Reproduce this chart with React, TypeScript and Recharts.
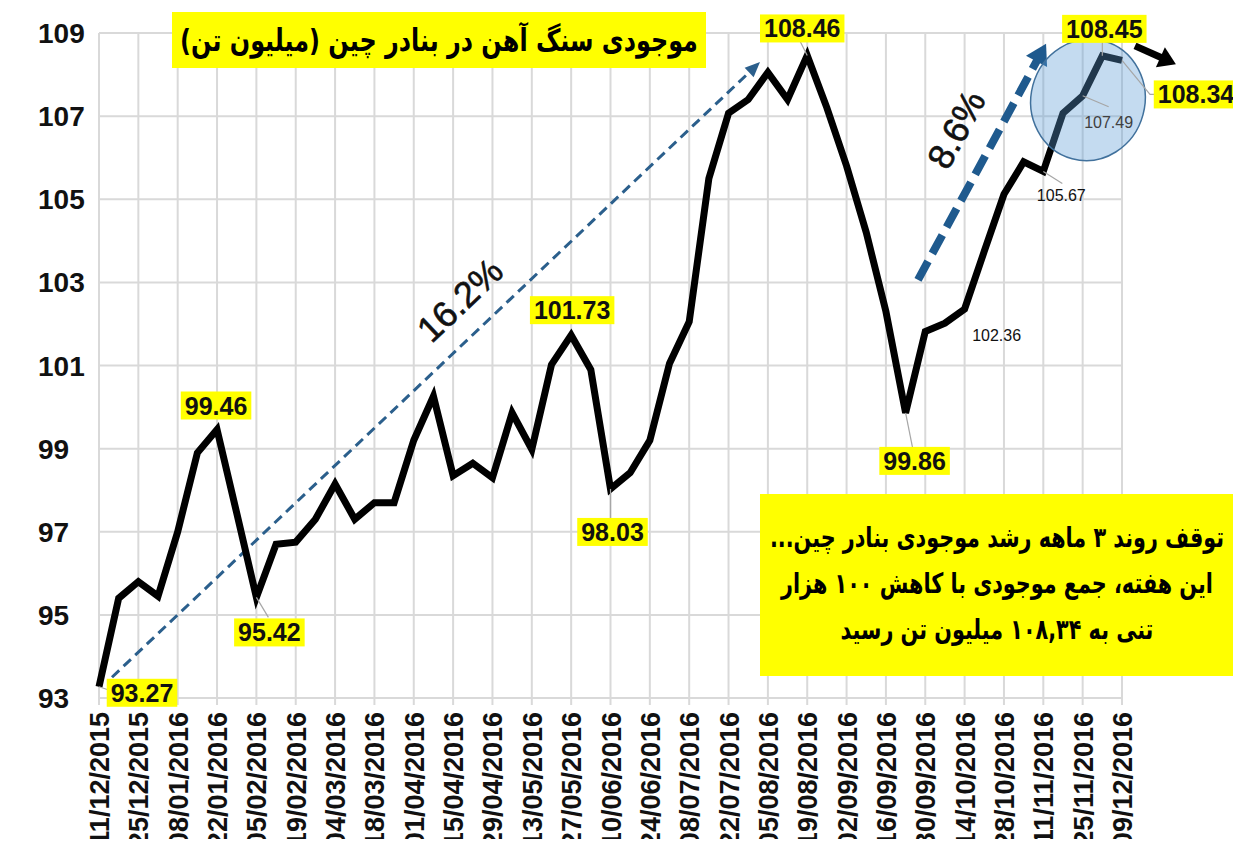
import React from "react";
import {
  CartesianGrid,
  LabelList,
  Line,
  LineChart,
  ReferenceDot,
  ReferenceLine,
  XAxis,
  YAxis,
} from "recharts";

// weekly iron ore stocks at chinese ports (million tonnes)
const weeks = [
  "11/12/2015", "18/12/2015", "25/12/2015", "01/01/2016", "08/01/2016", "15/01/2016",
  "22/01/2016", "29/01/2016", "05/02/2016", "12/02/2016", "19/02/2016", "26/02/2016",
  "04/03/2016", "11/03/2016", "18/03/2016", "25/03/2016", "01/04/2016", "08/04/2016",
  "15/04/2016", "22/04/2016", "29/04/2016", "06/05/2016", "13/05/2016", "20/05/2016",
  "27/05/2016", "03/06/2016", "10/06/2016", "17/06/2016", "24/06/2016", "01/07/2016",
  "08/07/2016", "15/07/2016", "22/07/2016", "29/07/2016", "05/08/2016", "12/08/2016",
  "19/08/2016", "26/08/2016", "02/09/2016", "09/09/2016", "16/09/2016", "23/09/2016",
  "30/09/2016", "07/10/2016", "14/10/2016", "21/10/2016", "28/10/2016", "04/11/2016",
  "11/11/2016", "18/11/2016", "25/11/2016", "02/12/2016", "09/12/2016",
];

const stocks = [
  93.27, 95.4, 95.8, 95.45, 97.0, 98.9, 99.46, 97.45, 95.42, 96.7, 96.75, 97.3,
  98.15, 97.3, 97.7, 97.7, 99.2, 100.26, 98.35, 98.65, 98.3, 99.86, 98.98, 101.02,
  101.73, 100.9, 98.03, 98.42, 99.2, 101.05, 102.05, 105.5, 107.07, 107.4, 108.05, 107.4,
  108.46, 107.2, 105.8, 104.2, 102.3, 99.86, 101.82, 102.02, 102.36, 103.75, 105.12, 105.9,
  105.67, 107.07, 107.49, 108.45, 108.34,
];

const yTicks = [93, 95, 97, 99, 101, 103, 105, 107, 109];

const TITLE = "موجودی سنگ آهن در بنادر چین (میلیون تن)";
const NOTE = [
  "توقف روند ۳ ماهه رشد موجودی بنادر چین...",
  "این هفته، جمع موجودی با کاهش ۱۰۰ هزار",
  "تنی به ۱۰۸,۳۴ میلیون تن رسید",
];

// annotation anchors in chart units [week index, value]
const trendLong = { from: [0.66, 93.5], to: [33.6, 108.3], text: "16.2%" };
const trendShort = { from: [41.63, 103.06], to: [48.14, 108.74], text: "8.6%" };
const downArrow = { from: [52.66, 108.69], to: [54.74, 108.25] };
const focus = [50.27, 107.39];

const data = weeks.map((w, i) => ({ i, week: w, v: stocks[i] }));
const xTicks = weeks.map((_, i) => i).filter((i) => i % 2 === 0);

const NUM_FONT = "'Liberation Sans', Arial, sans-serif";
const FA_FONT = "'DejaVu Sans', sans-serif";

// callout placement per point index (offsets in px from the point)
const callouts: Record<
  number,
  { dx: number; dy: number; box: boolean; leader?: number[][]; size?: number; color?: string }
> = {
  0: { dx: 43, dy: 6, box: true, leader: [[12, 4]] },
  6: { dx: -1, dy: -24, box: true },
  8: { dx: 13, dy: 35, box: true, leader: [[12, 20]] },
  24: { dx: 1, dy: -25, box: true },
  26: { dx: 2, dy: 43, box: true, leader: [[0, 30]] },
  36: { dx: -5, dy: -27, box: true, leader: [[-7, -14]] },
  41: { dx: 9, dy: 48, box: true, leader: [[7, 35]] },
  51: { dx: 2, dy: -27, box: true, leader: [[0, -14]] },
  52: { dx: 74, dy: 34, box: true, leader: [[28, 34], [36, 34]] },
  44: { dx: 32, dy: 26, box: false, size: 16 },
  48: { dx: 18, dy: 24, box: false, size: 16, leader: [[19, 12]] },
  50: { dx: 26, dy: 26, box: false, size: 16, color: "#404040", leader: [[26, 11]] },
};

function Callout(props: any) {
  const { x, y, index, value } = props;
  const c = callouts[index];
  if (!c || x == null) return null;
  const cx = x + c.dx;
  const cy = y + c.dy;
  const text = Number(value).toFixed(2);
  const size = c.size ?? 25;
  const w = (text.length - 1) * size * 0.556 + size * 0.278 + 8;
  const h = size + 3;
  let pts = `${x},${y}`;
  (c.leader ?? []).forEach((p) => (pts += ` ${x + p[0]},${y + p[1]}`));
  return (
    <g>
      {c.leader && <polyline points={pts} fill="none" stroke="#a6a6a6" strokeWidth={1.2} />}
      {c.box && <rect x={cx - w / 2} y={cy - h / 2} width={w} height={h} fill="#ffff00" />}
      <text
        x={cx}
        y={cy + size * 0.36}
        textAnchor="middle"
        fontFamily={NUM_FONT}
        fontWeight={c.box ? "bold" : "normal"}
        fontSize={size}
        fill={c.color ?? "#111"}
      >
        {text}
      </text>
    </g>
  );
}

function arrowShape(opts: {
  color: string;
  width: number;
  dash?: string;
  headLen: number;
  headW: number;
  text?: string;
  t?: number;
  off?: number;
}) {
  return (p: any) => {
    const { x1, y1, x2, y2 } = p;
    const dx = x2 - x1;
    const dy = y2 - y1;
    const len = Math.hypot(dx, dy);
    const ux = dx / len;
    const uy = dy / len;
    const bx = x2 - ux * opts.headLen;
    const by = y2 - uy * opts.headLen;
    const nx = uy;
    const ny = -ux;
    const head = `${x2},${y2} ${bx + (nx * opts.headW) / 2},${by + (ny * opts.headW) / 2} ${bx - (nx * opts.headW) / 2},${by - (ny * opts.headW) / 2}`;
    const ang = (Math.atan2(dy, dx) * 180) / Math.PI;
    let label = null;
    if (opts.text) {
      const t = opts.t ?? 0.5;
      const off = opts.off ?? 30;
      // point on the arrow, then pushed out along the upper-left normal
      const lx = x1 + dx * t + uy * off;
      const ly = y1 + dy * t - ux * off;
      label = (
        <text
          transform={`translate(${lx},${ly}) rotate(${ang})`}
          textAnchor="middle"
          dominantBaseline="central"
          fontFamily={NUM_FONT}
          fontSize={36}
          fill="#111"
          stroke="#111"
          strokeWidth={0.6}
        >
          {opts.text}
        </text>
      );
    }
    return (
      <g>
        <line
          x1={x1}
          y1={y1}
          x2={bx + ux * 2}
          y2={by + uy * 2}
          stroke={opts.color}
          strokeWidth={opts.width}
          strokeDasharray={opts.dash}
        />
        <polygon points={head} fill={opts.color} />
        {label}
      </g>
    );
  };
}

function XTick(props: any) {
  const { x, y, payload } = props;
  return (
    <text
      transform={`translate(${x + 10},${y + 5}) rotate(-90)`}
      textAnchor="end"
      fontFamily={NUM_FONT}
      fontWeight="bold"
      fontSize={27}
      fill="#111"
    >
      {weeks[payload.value]}
    </text>
  );
}

function YTick(props: any) {
  const { y, payload } = props;
  return (
    <text x={38} y={y + 10} fontFamily={NUM_FONT} fontWeight="bold" fontSize={28} fill="#111">
      {payload.value}
    </text>
  );
}

// yellow box with persian text squeezed horizontally to fit like the original heavy font
function YellowBox(props: {
  left: number;
  top: number;
  width: number;
  height: number;
  padTop: number;
  size: number;
  lineH: number;
  squeeze: number;
  lines: string[];
}) {
  const inner = 760;
  return (
    <div
      style={{
        position: "absolute",
        left: props.left,
        top: props.top,
        width: props.width,
        height: props.height,
        background: "#ffff00",
        overflow: "hidden",
      }}
    >
      <div
        style={{
          position: "absolute",
          left: (props.width - inner) / 2,
          top: props.padTop,
          width: inner,
          direction: "rtl",
          textAlign: "center",
          fontFamily: FA_FONT,
          fontWeight: "bold",
          fontSize: props.size,
          lineHeight: `${props.lineH}px`,
          color: "#000",
          whiteSpace: "nowrap",
          transform: `scaleX(${props.squeeze})`,
        }}
      >
        {props.lines.map((l) => (
          <div key={l}>{l}</div>
        ))}
      </div>
    </div>
  );
}

export default function App() {
  return (
    <div style={{ position: "relative", width: 1241, height: 847, margin: -8, background: "#fff", overflow: "hidden" }}>
      <div style={{ position: "absolute", left: 7, top: 6, width: 1260, height: 870, border: "1.5px solid #d9d9d9" }} />
      <LineChart width={1241} height={847} data={data} margin={{ top: 33, right: 119, left: 0, bottom: 0 }}>
        <CartesianGrid stroke="#d9d9d9" strokeWidth={2} />
        <XAxis
          dataKey="i"
          type="number"
          domain={[0, 52]}
          ticks={xTicks}
          interval={0}
          height={149}
          tick={<XTick />}
          axisLine={{ stroke: "#d9d9d9", strokeWidth: 2 }}
          tickLine={{ stroke: "#d9d9d9", strokeWidth: 2 }}
          tickSize={7}
        />
        <YAxis
          domain={[93, 109]}
          ticks={yTicks}
          interval={0}
          width={99}
          axisLine={false}
          tickLine={false}
          tick={<YTick />}
        />
        <ReferenceLine
          segment={[
            { x: trendLong.from[0], y: trendLong.from[1] },
            { x: trendLong.to[0], y: trendLong.to[1] },
          ]}
          ifOverflow="visible"
          shape={arrowShape({ color: "#2b5f8c", width: 3, dash: "10 6", headLen: 15, headW: 13, text: trendLong.text, t: 0.573, off: 34 })}
        />
        <Line
          type="linear"
          dataKey="v"
          stroke="#000"
          strokeWidth={7}
          strokeLinejoin="miter"
          dot={false}
          activeDot={false}
          isAnimationActive={false}
        >
          <LabelList dataKey="v" content={<Callout />} />
        </Line>
        <ReferenceLine
          segment={[
            { x: trendShort.from[0], y: trendShort.from[1] },
            { x: trendShort.to[0], y: trendShort.to[1] },
          ]}
          ifOverflow="visible"
          shape={arrowShape({ color: "#1f5a8e", width: 8, dash: "21 9", headLen: 20, headW: 24, text: trendShort.text, t: 0.56, off: 38 })}
        />
        <ReferenceLine
          segment={[
            { x: downArrow.from[0], y: downArrow.from[1] },
            { x: downArrow.to[0], y: downArrow.to[1] },
          ]}
          ifOverflow="visible"
          shape={arrowShape({ color: "#000", width: 7, headLen: 17, headW: 22 })}
        />
        <ReferenceDot
          x={focus[0]}
          y={focus[1]}
          ifOverflow="visible"
          shape={(p: any) => (
            <ellipse
              cx={p.cx}
              cy={p.cy}
              rx={57}
              ry={61}
              transform={`rotate(15 ${p.cx} ${p.cy})`}
              fill="rgba(91,155,213,0.36)"
              stroke="#41719c"
              strokeWidth={1.5}
            />
          )}
        />
      </LineChart>
      <YellowBox left={172} top={12} width={534} height={56} padTop={0} size={31} lineH={56} squeeze={0.77} lines={[TITLE]} />
      <YellowBox left={760} top={494} width={474} height={182} padTop={21} size={28} lineH={46} squeeze={0.74} lines={NOTE} />
    </div>
  );
}
